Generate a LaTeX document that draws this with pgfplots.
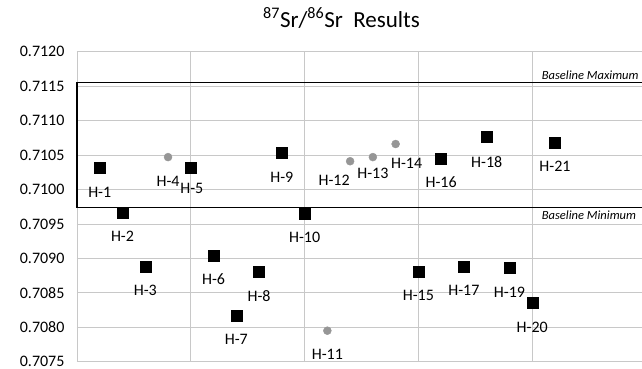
\documentclass[border=0pt]{standalone}
\usepackage{fontspec}
\setmainfont{Carlito}
\usepackage{pgfplots}
\pgfplotsset{compat=1.18}
\usepackage{pgfplotstable}

\pgfplotstableread{
x y label dx dy
1 0.71031 H-1 0 -24
2 0.70967 H-2 0 -24
3 0.70888 H-3 0 -24
5 0.71031 H-5 1 -20
6 0.70904 H-6 0 -24
7 0.70817 H-7 0 -24
8 0.70880 H-8 0 -24
9 0.71053 H-9 0 -24
10 0.70965 H-10 0 -24
15 0.70880 H-15 0 -23
16 0.71045 H-16 0 -24
17 0.70888 H-17 0 -24
18 0.71076 H-18 0 -25
19 0.70886 H-19 0 -24
20 0.70835 H-20 0 -24
21 0.71068 H-21 0 -24
}\squares

\pgfplotstableread{
x y label dx dy
4 0.71047 H-4 0 -24
11 0.70795 H-11 0 -24
12 0.71041 H-12 -16 -19
13 0.71047 H-13 0 -16
14 0.71066 H-14 11 -19
}\circles

\pgfplotstableread{
x y
26 0.71155
0 0.71155
0 0.70974
26 0.70974
}\baseline

\definecolor{gridgray}{RGB}{200,200,200}
\definecolor{ptgray}{RGB}{150,150,150}

\begin{document}
\begin{tikzpicture}
\useasboundingbox (-77pt,-7.3pt) rectangle (565pt,361.7pt);
\clip (-77pt,-7.3pt) rectangle (565pt,361.7pt);
\begin{axis}[
  at={(0pt,0pt)}, anchor=south west,
  scale only axis, width=569pt, height=310pt,
  xmin=0, xmax=25, ymin=0.7075, ymax=0.7120,
  xtick={0,5,10,15,20,25}, xticklabels={},
  ytick={0.7075,0.7080,0.7085,0.7090,0.7095,0.7100,0.7105,0.7110,0.7115,0.7120},
  /pgf/number format/assume math mode=true,
  yticklabel style={/pgf/number format/fixed, /pgf/number format/fixed zerofill, /pgf/number format/precision=4, xshift=-9pt, inner ysep=0.5pt},
  every tick label/.append style={font=\fontsize{16}{19}\selectfont},
  grid=major,
  major grid style={draw=gridgray, line width=0.8pt},
  axis line style={draw=gridgray, line width=0.8pt},
  tick style={draw=none},
  major tick length=0pt,
  clip=false,
  point meta=explicit symbolic,
]
\addplot[black, line width=1.6pt] table[x=x, y=y] {\baseline};
\addplot[only marks, mark=square*, mark size=5.5pt, black,
  nodes near coords,
  visualization depends on={\thisrow{dx} \as \ldx},
  visualization depends on={\thisrow{dy} \as \ldy},
  nodes near coords style={anchor=center, xshift=\ldx pt, yshift=\ldy pt, font=\fontsize{16}{19}\selectfont, text=black}]
  table[x=x, y=y, meta=label] {\squares};
\addplot[only marks, mark=*, mark size=4pt, ptgray,
  nodes near coords,
  visualization depends on={\thisrow{dx} \as \ldx},
  visualization depends on={\thisrow{dy} \as \ldy},
  nodes near coords style={anchor=center, xshift=\ldx pt, yshift=\ldy pt, font=\fontsize{16}{19}\selectfont, text=black}]
  table[x=x, y=y, meta=label] {\circles};
\end{axis}
\node[anchor=base west, font=\fontsize{23}{27}\selectfont, inner sep=0pt] at (186pt,333.7pt) {\textsuperscript{87}Sr/\textsuperscript{86}Sr\ \ Results};
\node[anchor=base west, font=\fontsize{12.5}{15}\selectfont\itshape, inner sep=0pt] at (464.7pt,281.7pt) {Baseline Maximum};
\node[anchor=base west, font=\fontsize{12.5}{15}\selectfont\itshape, inner sep=0pt] at (464.7pt,141.7pt) {Baseline Minimum};
\end{tikzpicture}
\end{document}
